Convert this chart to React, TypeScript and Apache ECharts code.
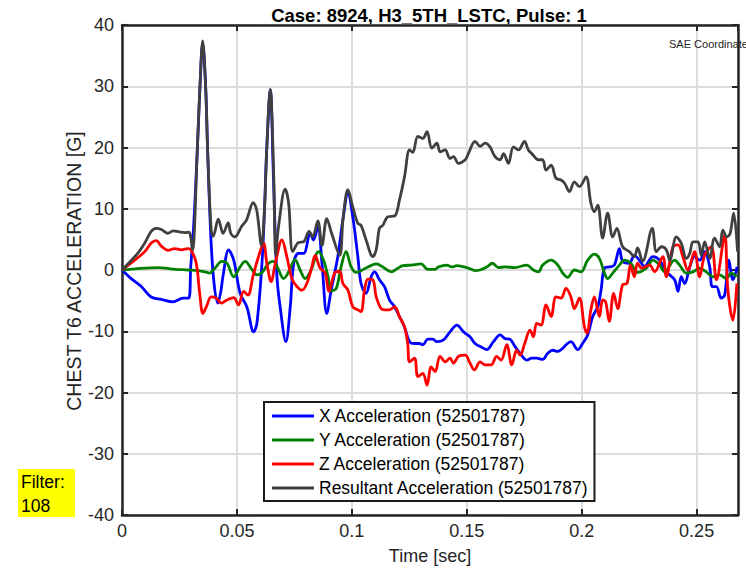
import React, { useEffect, useRef } from "react";
import * as echarts from "echarts";

// Chest T6 acceleration traces (time in ms, acceleration in G)
const xAccelMs = [0, 4.0, 8.4, 12.7, 17.1, 22.2, 26.5, 29.0, 29.9, 31.3, 32.7, 33.9, 35.1, 36.4, 37.3, 38.7, 40.0, 41.7, 43.0, 43.9, 46.4, 48.6, 51.4, 54.3, 57.3, 58.7, 60.9, 62.0, 63.0, 64.5, 65.9, 67.4, 68.8, 71.3, 73.2, 74.7, 76.8, 79.0, 81.9, 83.3, 85.2, 87.0, 89.1, 91.0, 93.9, 96.1, 98.3, 100.4, 102.6, 104.0, 106.2, 108.4, 109.9, 112.0, 114.2, 116.4, 118.6, 120.7, 122.9, 125.1, 127.3, 129.4, 130.9, 133.0, 135.2, 137.0, 139.9, 142.7, 145.7, 148.6, 151.4, 153.6, 156.5, 158.7, 161.6, 164.5, 166.7, 168.8, 171.0, 173.2, 176.1, 178.3, 180.4, 183.0, 185.2, 187.4, 189.6, 191.7, 193.2, 195.3, 198.3, 200.4, 202.6, 204.8, 207.0, 208.4, 209.9, 212.0, 214.2, 216.4, 217.8, 220.7, 222.9, 225.1, 227.3, 231.0, 233.9, 236.8, 240.4, 241.9, 243.3, 244.8, 247.0, 249.1, 251.3, 253.5, 255.7, 256.8, 258.6, 260.7, 262.2, 264.0, 265.8, 267.6];
const xAccelG = [0, -1.4, -2.7, -4.4, -4.8, -5.2, -4.6, -4.6, 0.5, 8, 19, 29.8, 37.0, 29.8, 19, 5, -2, -5.4, -3.5, -1.1, 3.3, 1.6, -3.8, -6.0, -10.1, -8.7, 1.1, 10, 20, 29.4, 15, -1, -6.0, -11.7, -6.0, 1.1, 2.7, 2.7, 6.0, 4.9, 7.1, 1.1, -7.1, -3.3, 2.2, 8.2, 12.5, 8.7, 2.2, -2.2, -3.8, -1.1, -0.3, -1.6, -2.7, -4.9, -6.0, -7.6, -9.3, -11.7, -12.0, -12.0, -12.2, -11.3, -11.3, -11.7, -11.4, -10.1, -9.0, -10.1, -10.9, -12.0, -12.6, -13.0, -11.7, -10.6, -11.2, -11.3, -12.5, -13.6, -14.7, -14.4, -14.4, -14.6, -13.6, -13.1, -13.3, -12.8, -12.2, -11.7, -13.0, -12.0, -10.6, -7.6, -6.0, -3.3, 0.3, 0.5, 0.8, 3.5, 1.4, 1.1, 2.4, 1.6, 0.6, 2.2, 1.6, -0.3, -1.6, -3.5, -1.1, -2.2, 0.5, 2.2, 1.6, 3.0, 0.5, -2.7, -2.7, -4.6, -4.1, 1.6, -1.6, 0.5];

const yAccelMs = [0, 5.7, 15.7, 20.9, 28.7, 33.0, 36.1, 38.1, 40.4, 43.5, 45.7, 48.6, 51.4, 53.6, 56.5, 58.7, 60.9, 63.8, 66.0, 67.8, 70.3, 72.5, 75.3, 77.5, 79.7, 82.3, 85.5, 87.7, 89.6, 91.1, 93.2, 95.3, 97.5, 99.7, 101.9, 104.0, 107.0, 110.6, 113.5, 117.1, 120.0, 122.2, 125.8, 130.1, 133.0, 136.0, 137.7, 141.3, 143.5, 145.7, 150.7, 153.6, 155.7, 158.7, 161.2, 163.8, 166.7, 170.9, 176.1, 179.0, 181.2, 183.0, 186.7, 189.6, 191.7, 193.9, 196.8, 199.7, 202.6, 205.5, 207.7, 209.9, 211.3, 213.5, 216.4, 218.6, 221.4, 224.3, 228.1, 231.0, 233.9, 236.1, 240.4, 242.6, 245.5, 248.4, 251.3, 254.2, 257.1, 260.0, 262.9, 265.1, 267.4];
const yAccelG = [0, 0.2, 0.4, 0.2, 0, -0.1, -0.3, -0.5, 0.3, 1.4, 1.1, -1.1, 0.5, 1.4, 0.1, -0.8, -0.4, 1.1, 1.4, 0.3, -1.4, -0.3, 1.7, 0, -1.4, 0, 3.0, 1.6, -1.0, -3.4, -3.0, 0.5, 3.0, 0.5, -0.4, -0.1, 0.5, 1.0, 0.5, -0.3, 0.3, 0.7, 0.8, 1.0, 0.1, 0.1, 0.5, 0.8, 0.5, 0.7, 0.3, -0.1, 0, 0.5, 1.1, 0.4, 0.5, 0.4, 0.8, 0, -0.3, 0.8, 1.6, 0.8, -0.5, -1.2, 0, -0.3, 1.6, 2.6, 1.9, -0.5, -1.4, -0.5, 0.8, 1.6, 1.1, -0.4, 0.3, 1.6, 0.8, -0.3, 1.6, 0.8, -0.5, -0.3, 0.3, -0.3, -1.1, -0.8, -1.4, -0.5, -1.1];

const zAccelMs = [0, 5.5, 9.9, 12.7, 14.9, 17.1, 20.0, 22.9, 25.8, 28.7, 30.0, 32.3, 33.8, 35.2, 36.7, 38.8, 41.0, 43.2, 45.7, 48.6, 50.7, 52.9, 54.8, 57.0, 59.4, 61.6, 63.0, 64.9, 66.7, 69.6, 71.7, 73.9, 76.1, 78.3, 80.4, 82.6, 84.0, 86.2, 88.4, 90.0, 92.5, 94.7, 96.1, 98.3, 100.4, 102.6, 104.0, 105.5, 107.0, 109.1, 110.6, 112.7, 114.3, 116.4, 118.6, 120.7, 122.9, 124.3, 125.1, 127.3, 128.7, 130.9, 132.7, 134.5, 136.2, 138.4, 140.6, 142.7, 144.2, 146.4, 149.3, 151.4, 153.3, 155.8, 158.0, 160.6, 163.0, 164.9, 167.4, 169.6, 171.7, 173.2, 175.2, 177.5, 179.0, 180.4, 182.3, 184.5, 186.7, 188.8, 191.0, 193.2, 195.3, 196.8, 199.0, 201.2, 202.3, 204.0, 205.5, 207.7, 209.1, 210.4, 212.0, 213.9, 215.7, 217.8, 219.7, 221.2, 222.9, 224.3, 226.1, 229.6, 231.7, 235.3, 236.8, 239.7, 241.9, 244.0, 246.2, 249.1, 251.3, 253.5, 256.4, 258.6, 262.2, 263.6, 265.8, 267.5];
const zAccelG = [0, 1.6, 3.0, 4.4, 4.8, 3.9, 3.2, 3.5, 3.3, 3.5, 3.3, 1.1, -3.8, -7.1, -6.0, -4.4, -4.6, -5.4, -4.9, -4.5, -5.7, -3.5, -4.1, -1.0, 2.2, 4.4, 1.1, -1.9, 1.1, 4.9, 2.2, -1.4, -2.7, -3.3, -2.2, 0.5, 2.4, 0.3, -0.5, -3.5, -0.5, -0.2, -2.2, -3.3, -6.0, -6.5, -6.8, -3.3, -1.5, -1.6, -4.4, -6.3, -6.5, -6.5, -6.0, -7.6, -9.3, -12.0, -15.0, -14.4, -17.4, -16.9, -18.8, -15.8, -16.6, -14.1, -15.0, -14.4, -15.2, -14.1, -13.9, -15.2, -16.3, -15.0, -15.5, -15.5, -14.1, -14.7, -12.2, -15.5, -13.1, -13.9, -12.0, -9.8, -10.9, -8.7, -9.0, -5.7, -7.6, -4.4, -4.6, -3.0, -4.4, -6.3, -4.6, -9.3, -10.3, -6.5, -4.4, -7.6, -4.9, -5.2, -8.4, -3.8, -6.3, -2.4, -2.2, 0.8, -1.1, 1.1, 0.3, 0.8, -0.3, 2.2, -1.1, 3.8, 4.1, 2.2, 0, 3.0, -1.1, 2.4, 3.8, -1.6, 5.7, -3.3, -8.2, -2.2];

const resultantMs = [0, 7.0, 9.9, 12.7, 14.9, 17.1, 20.0, 22.2, 25.1, 27.3, 29.0, 29.8, 30.7, 32.7, 33.9, 35.1, 36.4, 37.3, 38.8, 39.7, 41.9, 44.0, 46.2, 47.3, 49.1, 52.0, 54.2, 57.1, 58.6, 60.7, 62.0, 63.0, 64.5, 65.9, 66.9, 68.1, 71.0, 72.5, 74.3, 76.8, 79.0, 81.4, 82.9, 85.2, 87.0, 89.1, 91.2, 94.7, 96.2, 98.3, 100.4, 102.6, 104.0, 106.2, 109.1, 110.6, 112.0, 113.5, 115.7, 118.6, 120.7, 122.9, 125.1, 126.5, 128.7, 130.9, 132.7, 134.8, 137.0, 138.4, 140.6, 142.7, 144.2, 146.4, 149.3, 150.7, 153.6, 155.8, 158.0, 160.1, 162.3, 164.5, 166.0, 168.1, 170.3, 172.5, 175.1, 176.8, 178.3, 181.2, 183.0, 184.5, 186.7, 188.8, 191.0, 192.5, 194.7, 196.8, 199.0, 201.9, 204.0, 205.5, 207.0, 209.1, 211.3, 213.5, 215.3, 217.8, 220.7, 222.9, 224.3, 226.5, 230.7, 232.5, 234.7, 236.8, 238.3, 241.2, 243.3, 245.5, 247.0, 248.4, 250.6, 252.0, 253.5, 255.7, 257.8, 260.0, 261.4, 263.2, 264.6, 266.1, 267.8];
const resultantG = [0, 2.8, 4.4, 6.3, 6.8, 6.6, 6.0, 6.4, 6.2, 6.1, 6.2, 5.6, 3.3, 19, 29.8, 37.4, 29.8, 19, 6.5, 5.5, 8.3, 6.0, 7.7, 6.0, 5.4, 7.1, 8.2, 11.0, 9.8, 4.0, 10, 20, 29.5, 17, 2.5, 7.1, 13.2, 10.9, 3.0, 4.5, 4.6, 6.3, 5.4, 8.0, 4.0, 8.4, 6.0, 2.4, 8.5, 13.1, 10.3, 7.6, 7.3, 4.9, 2.2, 3.3, 6.8, 7.3, 8.7, 8.8, 11.4, 15.2, 19.6, 19.2, 21.8, 21.5, 22.6, 19.9, 20.7, 19.3, 19.6, 18.2, 18.5, 17.4, 18.0, 19.0, 21.0, 20.2, 20.7, 20.1, 18.5, 18.0, 19.0, 17.4, 20.1, 19.6, 21.0, 19.6, 19.0, 18.0, 18.0, 16.3, 17.1, 15.0, 14.7, 14.2, 12.8, 14.4, 13.6, 15.2, 10.9, 9.5, 10.6, 5.2, 9.3, 5.4, 6.8, 3.8, 3.0, 2.2, 3.6, 1.4, 6.8, 3.0, 3.8, 3.3, 1.6, 5.4, 4.4, 1.9, 2.7, 4.6, 4.6, 2.4, 4.6, 1.9, 5.2, 3.8, 6.5, 5.4, 6.0, 9.3, 3.0];

const seriesNames = [
  "X Acceleration (52501787)",
  "Y Acceleration (52501787)",
  "Z Acceleration (52501787)",
  "Resultant Acceleration (52501787)",
];
const seriesColors = ["#0000ff", "#008000", "#ff0000", "#404040"];

const FONT = "'Liberation Sans', Arial, Helvetica, sans-serif";
const INK = "#262626";

const toPairs = (ms: number[], g: number[]) => ms.map((t, i) => [t / 1000, g[i]]);

export default function App() {
  const ref = useRef<HTMLDivElement>(null);

  useEffect(() => {
    if (!ref.current) return;
    const chart = echarts.init(ref.current, undefined, { renderer: "svg" });

    const traces = [
      toPairs(xAccelMs, xAccelG),
      toPairs(yAccelMs, yAccelG),
      toPairs(zAccelMs, zAccelG),
      toPairs(resultantMs, resultantG),
    ];

    const boxAxisLine = { show: true, onZero: false, lineStyle: { color: INK, width: 2.5 } };
    const innerTick = { show: true, inside: true, length: 6, lineStyle: { color: INK, width: 2 } };

    chart.setOption({
      animation: false,
      backgroundColor: "#ffffff",
      textStyle: { fontFamily: FONT },
      grid: { left: 122, right: 8, top: 25, bottom: 56, containLabel: false },
      xAxis: [
        {
          type: "value",
          min: 0,
          max: 0.268,
          interval: 0.05,
          position: "bottom",
          name: "Time [sec]",
          nameLocation: "middle",
          nameGap: 32,
          nameTextStyle: { fontSize: 18, color: INK, fontFamily: FONT },
          axisLine: boxAxisLine,
          axisTick: innerTick,
          axisLabel: { fontSize: 18, color: INK, margin: 7, showMaxLabel: false, fontFamily: FONT },
          splitLine: { show: true, lineStyle: { color: "#dcdcdc", width: 2 } },
        },
        {
          type: "value",
          min: 0,
          max: 0.268,
          interval: 0.05,
          position: "top",
          axisLine: boxAxisLine,
          axisTick: innerTick,
          axisLabel: { show: false },
          splitLine: { show: false },
        },
      ],
      yAxis: [
        {
          type: "value",
          min: -40,
          max: 40,
          interval: 10,
          position: "left",
          axisLine: boxAxisLine,
          axisTick: innerTick,
          axisLabel: { fontSize: 18, color: INK, margin: 8, fontFamily: FONT },
          splitLine: { show: true, lineStyle: { color: "#dcdcdc", width: 2 } },
        },
        {
          type: "value",
          min: -40,
          max: 40,
          interval: 10,
          position: "right",
          axisLine: boxAxisLine,
          axisTick: innerTick,
          axisLabel: { show: false },
          splitLine: { show: false },
        },
      ],
      legend: {
        orient: "vertical",
        left: 264,
        top: 402,
        data: seriesNames,
        icon: "rect",
        itemWidth: 42,
        itemHeight: 3,
        itemGap: 6,
        padding: [5, 6, 4, 8],
        borderColor: "#1a1a1a",
        borderWidth: 2,
        backgroundColor: "#ffffff",
        selectedMode: false,
        textStyle: { fontSize: 17.5, color: "#000000", fontFamily: FONT, lineHeight: 18 },
      },
      series: traces.map((data, i) => ({
        type: "line",
        name: seriesNames[i],
        data,
        xAxisIndex: 0,
        yAxisIndex: 0,
        showSymbol: false,
        smooth: 0.35,
        color: seriesColors[i],
        lineStyle: { color: seriesColors[i], width: 2.8 },
        z: 3 + i,
      })),
      graphic: [
        {
          type: "text",
          x: 429,
          y: 15,
          style: {
            text: "Case: 8924, H3_5TH_LSTC, Pulse: 1",
            font: `bold 18.5px ${FONT}`,
            fill: "#000000",
            align: "center",
            verticalAlign: "middle",
          },
        },
        {
          // vertical axis title
          type: "text",
          x: 74,
          y: 271,
          rotation: Math.PI / 2,
          style: {
            text: "CHEST T6 ACCELERATION [G]",
            font: `19.5px ${FONT}`,
            fill: INK,
            align: "center",
            verticalAlign: "middle",
          },
        },
        {
          type: "text",
          x: 669,
          y: 44,
          style: {
            text: "SAE Coordinates",
            font: `11px ${FONT}`,
            fill: INK,
            verticalAlign: "middle",
          },
          z: 20,
        },
        {
          type: "rect",
          shape: { x: 18, y: 469, width: 57, height: 48 },
          style: { fill: "#ffff00" },
        },
        {
          type: "text",
          x: 21,
          y: 482,
          style: { text: "Filter:", font: `17.5px ${FONT}`, fill: "#000000", verticalAlign: "middle" },
        },
        {
          type: "text",
          x: 21,
          y: 506,
          style: { text: "108", font: `17.5px ${FONT}`, fill: "#000000", verticalAlign: "middle" },
        },
      ],
    });

    return () => chart.dispose();
  }, []);

  return (
    <div
      ref={ref}
      style={{ position: "fixed", left: 0, top: 0, width: 746, height: 571 }}
    />
  );
}
